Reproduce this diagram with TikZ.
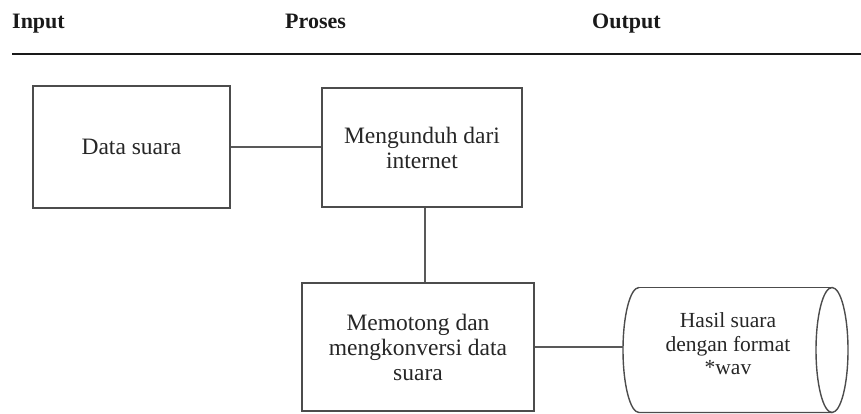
\documentclass[tikz,border=0pt]{standalone}
\usepackage{fontspec}
\setmainfont{Liberation Serif}
\begin{document}
\begin{tikzpicture}[x=1pt,y=-1pt,
  hdr/.style={anchor=base west,inner sep=0pt,font=\fontsize{22}{24}\selectfont\bfseries,text=black!90},
  procbox/.style={draw=black!70,line width=1.4pt,align=center,inner sep=0pt,
     font=\fontsize{23.5}{25}\selectfont,text=black!85},
  txt/.style={align=center,inner sep=0pt,font=\fontsize{21.5}{23.5}\selectfont,text=black!85},
  conn/.style={draw=black!65,line width=1.4pt},
  cyl/.style={draw=black!70,line width=1.4pt}]
\useasboundingbox (0,0) rectangle (861,414);
% header
\node[hdr] (hin) at (12,29) {Input};
\node[hdr] (hpr) at (285,29) {Proses};
\node[hdr] (hout) at (592,29) {Output};
\coordinate (rl) at (12,54);
\coordinate (rr) at (861,54);
\draw[line width=2.6pt,black!90] (rl) -- (rr);
% boxes
\node[procbox,minimum width=197pt,minimum height=122pt] (b1) at (131.5,147) {Data suara};
\node[procbox,minimum width=200pt,minimum height=119pt] (b2) at (422,147.5) {Mengunduh dari\\internet};
\node[procbox,minimum width=232pt,minimum height=128pt] (b3) at (418,347) {Memotong dan\\mengkonversi data\\suara};
% cylinder
\draw[cyl] (639,287.5) arc[start angle=-90,end angle=-270,x radius=16,y radius=62.5] -- (832,412.5);
\draw[cyl] (639,287.5) -- (832,287.5);
\draw[cyl] (832,350) ellipse [x radius=16,y radius=62.5];
\coordinate (cl) at (623,347);
\node[txt] (out) at (728,344) {Hasil suara\\dengan format\\*wav};
% connectors
\draw[conn] (b1.east) -- (b2.west |- b1.east);
\coordinate (vt) at (425,207);
\draw[conn] (b2.south -| vt) -- (b3.north -| vt);
\draw[conn] (b3.east) -- (cl);
\end{tikzpicture}
\end{document}
